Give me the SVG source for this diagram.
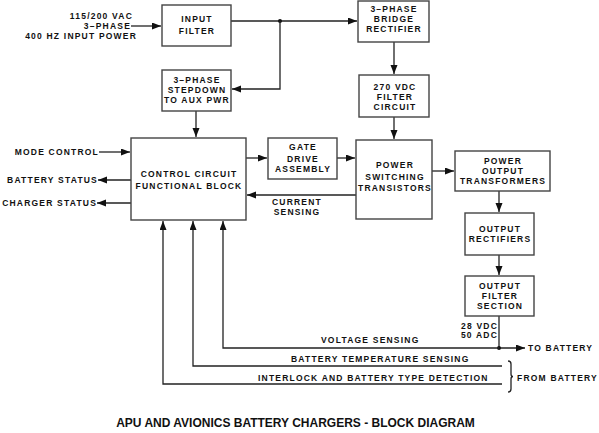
<svg xmlns="http://www.w3.org/2000/svg" width="599" height="433" viewBox="0 0 599 433">
<style>
.box{fill:#fff;stroke:#444;stroke-width:1.4}
.ln{fill:none;stroke:#222;stroke-width:1.3}
.t{font-family:"Liberation Sans",Arial,sans-serif;font-weight:bold;font-size:8.5px;letter-spacing:1.2px;fill:#111}
.c{text-anchor:middle}
.e{text-anchor:end}
.title{font-family:"Liberation Sans",Arial,sans-serif;font-weight:bold;font-size:12px;fill:#111;text-anchor:middle}
</style>
<defs>
<marker id="ah" markerUnits="userSpaceOnUse" markerWidth="10" markerHeight="8" refX="9" refY="3.5" orient="auto">
<path d="M0,0 L9,3.5 L0,7 z" fill="#111"/>
</marker>
</defs>
<rect width="599" height="433" fill="#fff"/>
<g id="connectors">
<path class="ln" d="M131,26 H161" marker-end="url(#ah)"/>
<path class="ln" d="M231,21 H357" marker-end="url(#ah)"/>
<circle cx="280" cy="21" r="2" fill="#111"/>
<path class="ln" d="M280,21 V89 H232" marker-end="url(#ah)"/>
<path class="ln" d="M196,111 V137" marker-end="url(#ah)"/>
<path class="ln" d="M394,42 V74" marker-end="url(#ah)"/>
<path class="ln" d="M394,117 V139" marker-end="url(#ah)"/>
<path class="ln" d="M99,152 H130" marker-end="url(#ah)"/>
<path class="ln" d="M131,180 H98" marker-end="url(#ah)"/>
<path class="ln" d="M131,203 H97" marker-end="url(#ah)"/>
<path class="ln" d="M246,158 H267" marker-end="url(#ah)"/>
<path class="ln" d="M337,158 H355" marker-end="url(#ah)"/>
<path class="ln" d="M356,195 H247" marker-end="url(#ah)"/>
<path class="ln" d="M432,171 H454" marker-end="url(#ah)"/>
<path class="ln" d="M499,191 V212" marker-end="url(#ah)"/>
<path class="ln" d="M499,255 V275" marker-end="url(#ah)"/>
<path class="ln" d="M499,316 V348 H525" marker-end="url(#ah)"/>
<circle cx="499" cy="348" r="2" fill="#111"/>
<path class="ln" d="M499,348 H223 V221" marker-end="url(#ah)"/>
<path class="ln" d="M502,366 H193 V221" marker-end="url(#ah)"/>
<path class="ln" d="M502,384 H163 V221" marker-end="url(#ah)"/>
<path class="ln" d="M508,361 Q511,361 511,364 V374 Q511,376.5 513,376.5 Q511,376.5 511,379 V389 Q511,392 508,392"/>
</g>
<g id="input-power">
<text class="t e" x="133" y="19">115/200 VAC</text>
<text class="t e" x="131" y="29">3–PHASE</text>
<text class="t e" x="137" y="39">400 HZ INPUT POWER</text>
</g>
<g id="input-filter">
<rect class="box" x="162" y="5" width="69" height="41"/>
<text class="t c" x="197" y="22">INPUT</text>
<text class="t c" x="197" y="34">FILTER</text>
</g>
<g id="bridge-rectifier">
<rect class="box" x="358" y="1" width="71" height="41"/>
<text class="t c" x="394" y="12">3–PHASE</text>
<text class="t c" x="394" y="22">BRIDGE</text>
<text class="t c" x="394" y="32">RECTIFIER</text>
</g>
<g id="stepdown">
<rect class="box" x="162" y="70" width="69" height="41"/>
<text class="t c" x="197" y="83">3–PHASE</text>
<text class="t c" x="197" y="93">STEPDOWN</text>
<text class="t c" x="197" y="103">TO AUX PWR</text>
</g>
<g id="filter-270">
<rect class="box" x="359" y="75" width="70" height="42"/>
<text class="t c" x="395" y="90">270 VDC</text>
<text class="t c" x="395" y="100">FILTER</text>
<text class="t c" x="395" y="110">CIRCUIT</text>
</g>
<g id="control-circuit">
<rect class="box" x="131" y="138" width="115" height="82"/>
<text class="t c" x="189" y="177">CONTROL CIRCUIT</text>
<text class="t c" x="189" y="189">FUNCTIONAL BLOCK</text>
</g>
<g id="external-signals">
<text class="t e" x="99" y="155">MODE CONTROL</text>
<text class="t e" x="98" y="183">BATTERY STATUS</text>
<text class="t e" x="97" y="206">CHARGER STATUS</text>
</g>
<g id="gate-drive">
<rect class="box" x="268" y="138" width="69" height="41"/>
<text class="t c" x="303" y="150">GATE</text>
<text class="t c" x="303" y="162">DRIVE</text>
<text class="t c" x="303" y="172">ASSEMBLY</text>
</g>
<g id="power-switching">
<rect class="box" x="356" y="140" width="76" height="79"/>
<text class="t c" x="395" y="168">POWER</text>
<text class="t c" x="395" y="179.5">SWITCHING</text>
<text class="t c" x="395" y="191">TRANSISTORS</text>
</g>
<g id="current-sensing-label">
<text class="t c" x="297" y="205">CURRENT</text>
<text class="t c" x="297" y="215">SENSING</text>
</g>
<g id="output-transformers">
<rect class="box" x="455" y="151" width="95" height="40"/>
<text class="t c" x="503" y="164">POWER</text>
<text class="t c" x="503" y="174">OUTPUT</text>
<text class="t c" x="503" y="184">TRANSFORMERS</text>
</g>
<g id="output-rectifiers">
<rect class="box" x="465" y="213" width="69" height="42"/>
<text class="t c" x="500" y="232">OUTPUT</text>
<text class="t c" x="500" y="242">RECTIFIERS</text>
</g>
<g id="output-filter">
<rect class="box" x="465" y="276" width="69" height="40"/>
<text class="t c" x="500" y="289">OUTPUT</text>
<text class="t c" x="500" y="299">FILTER</text>
<text class="t c" x="500" y="309">SECTION</text>
</g>
<g id="output-labels">
<text class="t e" x="498" y="329">28 VDC</text>
<text class="t e" x="498" y="338">50 ADC</text>
<text class="t" x="528" y="351">TO BATTERY</text>
<text class="t" x="321" y="343">VOLTAGE SENSING</text>
<text class="t" x="291" y="362">BATTERY TEMPERATURE SENSING</text>
<text class="t" x="258" y="381">INTERLOCK AND BATTERY TYPE DETECTION</text>
<text class="t" x="517" y="381">FROM BATTERY</text>
</g>
<text class="title" x="295.5" y="427">APU AND AVIONICS BATTERY CHARGERS - BLOCK DIAGRAM</text>
</svg>
